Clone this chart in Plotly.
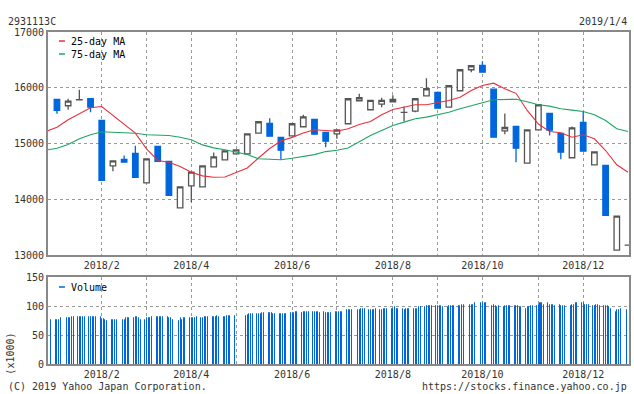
import plotly.graph_objects as go
import pandas as pd

# ---------------- data ----------------
code_label = "2931113C"
date_label = "2019/1/4"

# weekly candles (week starting Monday)
week_start = [d.strftime("%Y-%m-%d") for d in pd.date_range("2018-01-08", periods=52, freq="7D")]

opens = [15790, 15677, 15785, 15803, 15413, 14600, 14713, 14821, 14295, 14946,
         14677, 13846, 14241, 14223, 14582, 14708, 14815, 14815, 15185, 15359,
         15108, 15138, 15300, 15431, 15198, 15174, 15354, 15767, 15605, 15706,
         15749, 15557, 15580, 15856, 15916, 15652, 15946, 16323, 16401, 15975,
         15228, 15305, 14647, 15246, 15539, 15180, 14744, 15377, 14618, 14605,
         13088, 13177]
highs = [15800, 15803, 15964, 15810, 15420, 14690, 14785, 14959, 14726, 14946,
         14677, 14223, 14485, 14600, 14839, 14869, 14887, 15174, 15390, 15454,
         15108, 15354, 15515, 15431, 15198, 15246, 15803, 15892, 15772, 15821,
         15867, 15664, 15803, 16172, 15934, 16036, 16323, 16395, 16477, 15975,
         15539, 15305, 15246, 15695, 15539, 15180, 15305, 15575, 14851, 14605,
         13698, 13180]
lows = [15533, 15605, 15780, 15562, 14337, 14503, 14665, 14395, 14295, 14682,
        14072, 13846, 13947, 14223, 14582, 14708, 14815, 14815, 15185, 15131,
        14708, 15138, 15300, 15167, 14934, 15085, 15354, 15767, 15605, 15652,
        15749, 15400, 15562, 15856, 15634, 15652, 15946, 16280, 16280, 15113,
        15167, 14665, 14647, 15246, 15144, 14718, 14744, 14862, 14618, 13713,
        13088, 13175]
closes = [15593, 15759, 15788, 15652, 14337, 14690, 14665, 14395, 14726, 14682,
          14072, 14223, 14485, 14600, 14761, 14869, 14887, 15174, 15390, 15131,
          14880, 15354, 15479, 15167, 15041, 15246, 15803, 15821, 15772, 15772,
          15790, 15560, 15803, 15982, 15634, 16036, 16323, 16395, 16280, 15113,
          15287, 14916, 15246, 15695, 15239, 14844, 15282, 14862, 14851, 13713,
          13698, 13178]

# moving averages, one value per week, starting with the week before the first candle
ma25 = [15215, 15293, 15426, 15533, 15641, 15664, 15503, 15354, 15185, 14905,
        14695, 14665, 14587, 14485, 14420, 14395, 14400, 14480, 14560, 14740,
        14910, 15045, 15110, 15190, 15246, 15234, 15221, 15264, 15341, 15395,
        15515, 15610, 15652, 15695, 15695, 15731, 15772, 15831, 15952, 16041,
        16082, 15982, 15900, 15593, 15350, 15216, 15192, 15113, 15156, 15085,
        14874, 14618, 14485]
ma75 = [14880, 14916, 14982, 15085, 15156, 15210, 15203, 15198, 15185, 15156,
        15144, 15144, 15113, 15067, 14975, 14922, 14887, 14840, 14803, 14726,
        14713, 14708, 14735, 14767, 14800, 14855, 14880, 14920, 15030, 15144,
        15234, 15323, 15383, 15444, 15473, 15515, 15562, 15623, 15682, 15731,
        15785, 15790, 15795, 15750, 15695, 15670, 15623, 15598, 15575, 15515,
        15413, 15264, 15216]

# daily volume (x1000), grouped by week, starting with the week before the first candle
vol_weeks = [
    [None, None, None, None, 78],
    [78, 78, 78, 80],
    [80, 80, 81, 82, 82],
    [82, 83, 83, 82, 83],
    [83, 83, 82, 83, 83],
    [82, 79, 79, 78, 76],
    [78, 77, 78, 78],
    [78, 78, 80, 80, 80],
    [80, 82, 82, 80, 78],
    [78, 80, 80, 80, 82],
    [82, 82, 82, 82, 82],
    [82, 80, 80, 78],
    [76, 80, 78, 80, 80],
    [80, 80, 80, 80, 82],
    [80, 80, 82, 82, 83],
    [83, 83, 83, 85, 83],
    [83, 83, 85, 85, 85],
    [85],
    [85, 86, 87, 87, 88],
    [88, 88, 88, 90, 90],
    [90, 90, 90, 88, 88],
    [88, 88, 87, 88, 88],
    [90, 90, 90, 92, 92],
    [90, 92, 92, 92, 92],
    [92, 92, 92, 92, 90],
    [92, 90, 90, 90, 90],
    [92, 92, 92, 92, 92],
    [94, 95, 95, 95],
    [95, 95, 97, 97, 97],
    [95, 95, 95, 95, 97],
    [95, 95, 97, 97, 97],
    [97, 97, 99, 97, 97],
    [97, 95, 97, 97, 97],
    [97, 97, 97, 99, 99],
    [99, 101, 101, 102, 101],
    [101, 101, 101, 101, 99],
    [99, 101, 101, 101, 102],
    [102, 102, 104, 104],
    [104, 104, 104, 106],
    [106, 106, 106, 106],
    [102, 104, 101, 99, 101],
    [99, 101, 102, 102, 101],
    [101, 101, 101, 99, 99],
    [97, 99, 99, 101, 102],
    [102, 104, 106, 106, 104],
    [106, 104, 104, 104, 102],
    [104, 102, 101, 102],
    [102, 104, 104, 106, 106],
    [106, 107, 104, 104, 104],
    [102, 102, 104, 104, 102],
    [102, 101, 101, 99, 97],
    [92, 94, 95, 97],
    [94],
]

grid_weeks = ["2018-02-05", "2018-03-05", "2018-04-02", "2018-04-30", "2018-06-04", "2018-07-02",
              "2018-08-06", "2018-09-03", "2018-10-01", "2018-11-05", "2018-12-03"]
grid_labels = ["2018/2", "", "2018/4", "", "2018/6", "", "2018/8", "", "2018/10", "", "2018/12"]

price_ticks = [13000, 14000, 15000, 16000, 17000]
vol_ticks = [0, 50, 100, 150]

# ---------------- build ----------------
W, H = 634, 394
L, R, T, B = 48, 3, 32, 30
PW, PH = W - L - R, H - T - B

def pxx(px):
    return (px - L) / PW

def pyy(py):
    return (H - B - py) / PH

FONT = "DejaVu Sans Mono"
TXT = "#333333"
BLUE = "#0066dd"
FRAME = "#888888"
GRID = "#9a9a9a"

xw = list(range(len(week_start)))
x_ma = list(range(-1, len(week_start)))
tickvals = [week_start.index(d) for d in grid_weeks]

slot0, slot_step = -0.151, 0.146
vx, vy = [], []
for k, wk in enumerate(vol_weeks, start=-1):
    for j, v in enumerate(wk):
        if v is None:
            continue
        vx.append(k + slot0 + j * slot_step)
        vy.append(v)

fig = go.Figure()

fig.add_trace(go.Candlestick(
    x=xw, open=opens, high=highs, low=lows, close=closes,
    increasing=dict(line=dict(color="#555555", width=1.3), fillcolor="white"),
    decreasing=dict(line=dict(color=BLUE, width=1.3), fillcolor=BLUE),
    whiskerwidth=0, showlegend=False, xaxis="x", yaxis="y", name="price"))

fig.add_trace(go.Scatter(x=x_ma, y=ma25, mode="lines", line=dict(color="#e8313c", width=1.1),
                         name="25-day MA", showlegend=False, xaxis="x", yaxis="y"))
fig.add_trace(go.Scatter(x=x_ma, y=ma75, mode="lines", line=dict(color="#1fa564", width=1.1),
                         name="75-day MA", showlegend=False, xaxis="x", yaxis="y"))

fig.add_trace(go.Bar(x=vx, y=vy, width=0.09, marker=dict(color=BLUE, line=dict(width=0.02, color=BLUE)),
                     name="Volume", showlegend=False, xaxis="x2", yaxis="y2"))

xrange = [-0.80, 51.09]
axis_common = dict(showline=True, mirror=True, linecolor=FRAME, linewidth=2,
                   showgrid=True, gridcolor=GRID, gridwidth=1, griddash="3px,3px",
                   zeroline=False, ticks="", tickfont=dict(family=FONT, size=10, color=TXT))

fig.update_layout(
    width=W, height=H,
    margin=dict(l=L, r=R, t=T, b=B, pad=0),
    paper_bgcolor="white", plot_bgcolor="white",
    showlegend=False, bargap=0, bargroupgap=0,
    font=dict(family=FONT, size=10, color=TXT),
    xaxis=dict(domain=[0, 1], anchor="y", range=xrange, tickmode="array",
               tickvals=tickvals, ticktext=grid_labels,
               rangeslider=dict(visible=False), **axis_common),
    yaxis=dict(domain=[pyy(255), 1], anchor="x", range=[13000, 17000], tickmode="array",
               tickvals=price_ticks, ticktext=[str(v) for v in price_ticks], **axis_common),
    xaxis2=dict(domain=[0, 1], anchor="y2", range=xrange, tickmode="array",
                tickvals=tickvals, ticktext=grid_labels, **axis_common),
    yaxis2=dict(domain=[0, pyy(277.3)], anchor="x2", range=[0, 150], tickmode="array",
                tickvals=vol_ticks, ticktext=[str(v) for v in vol_ticks], **axis_common),
)

shapes = [
    dict(type="line", xref="paper", yref="paper", x0=pxx(59), x1=pxx(65), y0=pyy(41), y1=pyy(41),
         line=dict(color="#e8313c", width=1.5)),
    dict(type="line", xref="paper", yref="paper", x0=pxx(59), x1=pxx(65), y0=pyy(54), y1=pyy(54),
         line=dict(color="#1fa564", width=1.5)),
    dict(type="line", xref="paper", yref="paper", x0=pxx(59), x1=pxx(65), y0=pyy(287), y1=pyy(287),
         line=dict(color=BLUE, width=1.5)),
]
fig.update_layout(shapes=shapes)

def ann(text, px, py, xanchor="left", color="#000000", angle=0):
    return dict(text=text, xref="paper", yref="paper", x=pxx(px), y=pyy(py),
                xanchor=xanchor, yanchor="middle", showarrow=False, textangle=angle,
                font=dict(family=FONT, size=10, color=color))

annotations = [
    ann("25-day MA", 69, 41),
    ann("75-day MA", 69, 54),
    ann("Volume", 69, 287),
    ann(code_label, 6, 21, color=TXT),
    ann(date_label, 631, 21, xanchor="right", color=TXT),
    ann("(C) 2019 Yahoo Japan Corporation.", 6, 386, color=TXT),
    ann("https://stocks.finance.yahoo.co.jp", 631, 386, xanchor="right", color=TXT),
    dict(text="(x1000)", xref="paper", yref="paper", x=pxx(9.5), y=pyy(354),
         xanchor="center", yanchor="middle", showarrow=False, textangle=-90,
         font=dict(family=FONT, size=10, color=TXT)),
]
fig.update_layout(annotations=annotations)

fig.write_html("out.html", config=dict(displayModeBar=False),
               post_script="document.body.style.margin='0';document.body.style.overflow='hidden';")
